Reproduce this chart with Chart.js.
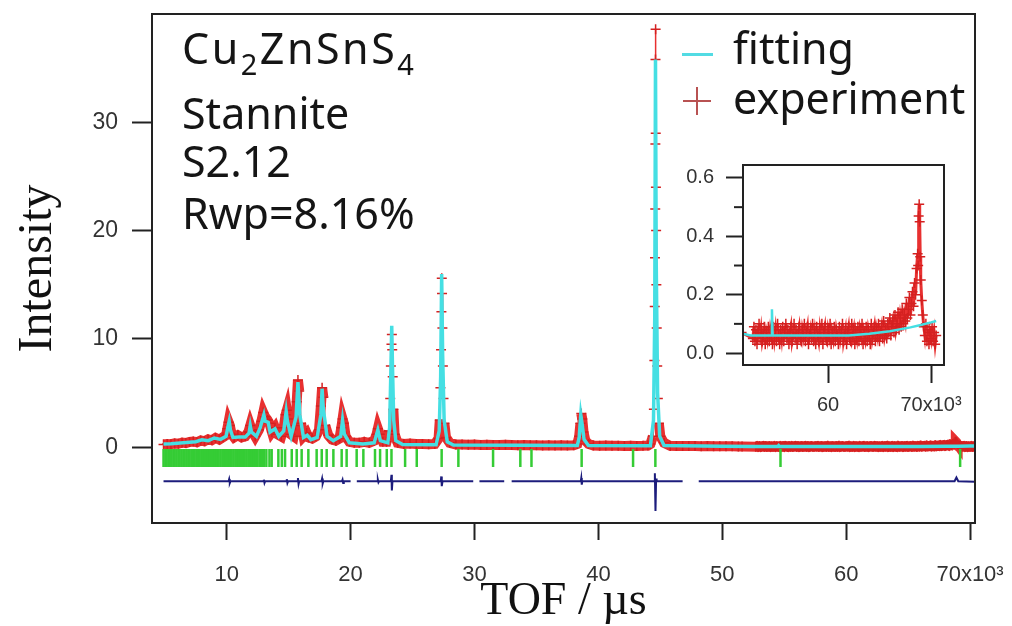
<!DOCTYPE html>
<html lang="en">

<head>
    <meta charset="UTF-8" />
    <title>Cu2ZnSnS4 Stannite S2.12 - TOF fit</title>
    <script src="https://cdn.jsdelivr.net/npm/chart.js"></script>
    <style>
        body { margin: 0; background: #fff; }
        .stage { position: relative; width: 1012px; height: 626px; overflow: hidden; }
        .stage canvas { position: absolute; }
        #mainChart { left: 0; top: 0; }
        #insetChart { left: 680px; top: 150px; }
        .label { position: absolute; font-family: "Noto Sans", sans-serif; font-size: 43px; line-height: 50px; color: #151515; white-space: nowrap; }
        .label sub { font-size: 29px; line-height: 0; vertical-align: -11px; }
        .key-line { position: absolute; left: 682px; top: 53px; width: 31px; height: 3px; background: #52dbe3; }
        .key-plus-h { position: absolute; left: 683px; top: 100px; width: 28px; height: 2px; background: #b85252; }
        .key-plus-v { position: absolute; left: 696px; top: 87px; width: 2px; height: 28px; background: #b85252; }
    </style>
</head>

<body>
    <div class="stage">
        <canvas id="mainChart" width="1012" height="626"></canvas>
        <canvas id="insetChart" width="310" height="270"></canvas>

        <!-- sample notes -->
        <div class="label" style="left:182px; top:23px; letter-spacing:2.5px">Cu<sub>2</sub>ZnSnS<sub>4</sub></div>
        <div class="label" style="left:182px; top:88px">Stannite</div>
        <div class="label" style="left:182px; top:136px">S2.12</div>
        <div class="label" style="left:182px; top:188px">Rwp=8.16%</div>

        <!-- legend -->
        <div class="key-line"></div>
        <div class="label" style="left:733px; top:23px">fitting</div>
        <div class="key-plus-h"></div>
        <div class="key-plus-v"></div>
        <div class="label" style="left:733px; top:73px">experiment</div>
    </div>

    <script>
        // TOF in units of 10^3 µs
        const tofTicks = [10, 20, 30, 40, 50, 60, 70];
        const intensityTicks = [0, 10, 20, 30];
        const insetTofTicks = [60, 70];
        const insetIntensityTicks = [0, 0.2, 0.4, 0.6];
        const insetMinorTicks = [0.1, 0.3, 0.5];

        // observed profile [tof, intensity]
        const obsLow = [
            [4.9, 0.25], [5.2, 0.3], [5.5, 0.28], [5.8, 0.35], [6.1, 0.32], [6.4, 0.42], [6.7, 0.38], [7.0, 0.48],
            [7.3, 0.52], [7.6, 0.46], [7.9, 0.62], [8.2, 0.55], [8.5, 0.72], [8.8, 0.64], [9.1, 0.85], [9.4, 0.7],
            [9.7, 0.92], [9.95, 1.1], [10.05, 1.7], [10.15, 2.3], [10.25, 2.0], [10.4, 1.2], [10.6, 0.9], [10.9, 1.1],
            [11.2, 0.9], [11.5, 1.0], [11.75, 1.4], [11.9, 2.0], [12.05, 1.5], [12.3, 1.0], [12.6, 1.6], [12.8, 2.4],
            [12.95, 3.2], [13.1, 2.8], [13.3, 2.5], [13.45, 2.2], [13.65, 1.4], [13.9, 1.8], [14.1, 1.2], [14.4, 1.0],
            [14.6, 1.8], [14.75, 3.0], [14.85, 3.4], [14.95, 2.6], [15.15, 1.2], [15.4, 1.0], [15.55, 2.0], [15.65, 4.2],
            [15.75, 6.2], [15.85, 5.2], [16.0, 2.2], [16.2, 1.0], [16.45, 1.3], [16.6, 0.9], [16.9, 0.8], [17.2, 1.0],
            [17.45, 1.6], [17.6, 3.8], [17.7, 5.5], [17.8, 4.6], [17.95, 2.0], [18.2, 1.1], [18.5, 0.7], [18.8, 0.6],
            [19.1, 0.8], [19.25, 1.8], [19.35, 2.6], [19.45, 2.2], [19.6, 1.0], [19.9, 0.5], [20.3, 0.4], [20.7, 0.4],
            [21.1, 0.5], [21.5, 0.4], [21.9, 0.6], [22.1, 1.2], [22.2, 1.7], [22.35, 1.2], [22.6, 0.5], [22.9, 0.5]
        ];
        const obsMid = [
            [23.1, 1.5], [23.2, 4.5], [23.25, 7.5], [23.3, 9.5], [23.33, 10.4], [23.36, 9.0], [23.4, 6.5], [23.45, 3.5],
            [23.55, 1.2], [23.8, 0.4], [24.3, 0.3], [24.8, 0.35], [25.3, 0.3], [25.8, 0.3], [26.3, 0.28], [26.8, 0.3],
            [27.1, 0.8], [27.2, 2.5], [27.25, 5.5], [27.3, 9.0], [27.33, 12.5], [27.36, 15.6], [27.38, 14.2], [27.41, 11.0],
            [27.45, 7.5], [27.5, 4.5], [27.57, 2.2], [27.7, 0.9], [28.0, 0.4], [28.5, 0.25], [29.0, 0.25], [29.5, 0.22],
            [30.0, 0.25], [30.5, 0.2], [31.0, 0.22], [31.5, 0.2], [32.0, 0.2], [32.5, 0.22], [33.0, 0.2], [33.5, 0.18],
            [34.0, 0.2], [34.5, 0.18], [35.0, 0.18], [35.5, 0.16], [36.0, 0.18], [36.5, 0.16], [37.0, 0.17], [37.5, 0.15],
            [38.0, 0.17], [38.3, 0.3], [38.45, 1.0], [38.55, 2.2], [38.62, 3.1], [38.7, 2.6], [38.8, 1.4], [38.95, 0.6],
            [39.2, 0.3], [39.6, 0.15], [40.1, 0.14], [40.6, 0.15], [41.1, 0.13], [41.6, 0.14], [42.1, 0.12], [42.6, 0.14],
            [43.1, 0.12], [43.6, 0.13], [44.0, 0.15], [44.2, 0.3], [44.4, 1.0], [44.48, 3.5], [44.52, 8.0], [44.55, 13],
            [44.57, 17.5], [44.59, 22], [44.6, 28], [44.61, 35.8], [44.62, 38.6], [44.63, 29], [44.645, 24], [44.66, 20],
            [44.68, 15], [44.71, 11], [44.75, 7.5], [44.8, 4.5], [44.88, 2.2], [45.0, 1.0], [45.3, 0.4]
        ];
        const obsHigh = [
            [45.8, 0.12], [46.3, 0.1], [46.8, 0.11], [47.3, 0.1], [47.8, 0.1], [48.3, 0.09], [48.8, 0.1], [49.3, 0.08],
            [49.8, 0.09], [50.3, 0.08], [50.8, 0.08], [51.3, 0.07], [51.6, 0.07]
        ];
        const obsTail = [
            [52.7, 0.05], [52.8, 0.09], [52.9, 0.04], [53.0, 0.08], [53.1, 0.03], [53.2, 0.07], [53.3, 0.10], [53.4, 0.05], [53.5, 0.08], [53.6, 0.04],
            [53.7, 0.06], [53.8, 0.09], [53.9, 0.03], [54.0, 0.07], [54.1, 0.05], [54.2, 0.09], [54.3, 0.04], [54.4, 0.08], [54.5, 0.06], [54.6, 0.03],
            [54.7, 0.09], [54.8, 0.05], [54.9, 0.08], [55.0, 0.04], [55.1, 0.10], [55.2, 0.06], [55.3, 0.03], [55.4, 0.08], [55.5, 0.05], [55.6, 0.09],
            [55.7, 0.04], [55.8, 0.07], [55.9, 0.10], [56.0, 0.05], [56.1, 0.08], [56.2, 0.03], [56.3, 0.07], [56.4, 0.09], [56.5, 0.04], [56.6, 0.06],
            [56.7, 0.10], [56.8, 0.05], [56.9, 0.08], [57.0, 0.03], [57.1, 0.07], [57.2, 0.09], [57.3, 0.05], [57.4, 0.04], [57.5, 0.08], [57.6, 0.06],
            [57.7, 0.10], [57.8, 0.04], [57.9, 0.07], [58.0, 0.09], [58.1, 0.03], [58.2, 0.06], [58.3, 0.08], [58.4, 0.05], [58.5, 0.10], [58.6, 0.04],
            [58.7, 0.07], [58.8, 0.03], [58.9, 0.09], [59.0, 0.06], [59.1, 0.04], [59.2, 0.08], [59.3, 0.05], [59.4, 0.10], [59.5, 0.03], [59.6, 0.07],
            [59.7, 0.09], [59.8, 0.05], [59.9, 0.04], [60.0, 0.08], [60.1, 0.06], [60.2, 0.10], [60.3, 0.03], [60.4, 0.07], [60.5, 0.05], [60.6, 0.09],
            [60.7, 0.04], [60.8, 0.08], [60.9, 0.06], [61.0, 0.03], [61.1, 0.09], [61.2, 0.05], [61.3, 0.07], [61.4, 0.10], [61.5, 0.04], [61.6, 0.06],
            [61.7, 0.08], [61.8, 0.03], [61.9, 0.07], [62.0, 0.09], [62.1, 0.05], [62.2, 0.04], [62.3, 0.10], [62.4, 0.06], [62.5, 0.08], [62.6, 0.03],
            [62.7, 0.07], [62.8, 0.05], [62.9, 0.09], [63.0, 0.04], [63.1, 0.08], [63.2, 0.06], [63.3, 0.10], [63.4, 0.03], [63.5, 0.07], [63.6, 0.05],
            [63.7, 0.09], [63.8, 0.04], [63.9, 0.08], [64.0, 0.06], [64.1, 0.03], [64.2, 0.10], [64.3, 0.05], [64.4, 0.07], [64.5, 0.09], [64.6, 0.04],
            [64.7, 0.08], [64.8, 0.06], [64.9, 0.10], [65.0, 0.04], [65.1, 0.07], [65.2, 0.09], [65.3, 0.05], [65.4, 0.11], [65.5, 0.06], [65.6, 0.08],
            [65.7, 0.05], [65.8, 0.10], [65.9, 0.07], [66.0, 0.12], [66.1, 0.06], [66.2, 0.09], [66.3, 0.11], [66.4, 0.07], [66.5, 0.13], [66.6, 0.08],
            [66.7, 0.10], [66.8, 0.14], [66.9, 0.08], [67.0, 0.12], [67.1, 0.09], [67.2, 0.15], [67.3, 0.10], [67.4, 0.13], [67.5, 0.11], [67.6, 0.17],
            [67.7, 0.12], [67.8, 0.15], [67.9, 0.19], [68.0, 0.13], [68.1, 0.17], [68.2, 0.21], [68.3, 0.16], [68.4, 0.24], [68.5, 0.20], [68.6, 0.29],
            [68.7, 0.34], [68.75, 0.30], [68.8, 0.47], [68.85, 0.51], [68.9, 0.45], [68.95, 0.33], [69.0, 0.25], [69.1, 0.18], [69.2, 0.13], [69.3, 0.09],
            [69.4, 0.06], [69.5, 0.10], [69.6, 0.04], [69.7, 0.08], [69.8, 0.03], [69.9, 0.07], [70.0, 0.05], [70.1, 0.09], [70.2, 0.04], [70.3, 0.07],
            [70.4, 0.03], [70.5, 0.06]
        ];

        // calculated (fitting) profile
        const calcProfile = [
            [4.9, 0.3], [5.5, 0.32], [6.5, 0.4], [7.5, 0.5], [8.0, 0.68], [8.5, 0.6], [9.0, 0.85], [9.5, 0.72],
            [9.95, 1.0], [10.1, 1.9], [10.2, 2.4], [10.3, 1.6], [10.5, 0.9], [11.0, 0.95], [11.5, 0.95], [11.8, 1.3],
            [11.9, 2.0], [12.0, 1.4], [12.4, 1.0], [12.7, 1.8], [12.9, 2.6], [13.0, 3.0], [13.1, 2.4], [13.35, 2.3],
            [13.5, 1.4], [13.9, 1.7], [14.2, 1.0], [14.6, 1.5], [14.8, 3.3], [14.9, 2.4], [15.2, 1.0], [15.6, 2.8],
            [15.75, 6.0], [15.9, 3.0], [16.2, 0.9], [16.5, 1.1], [16.8, 0.7], [17.3, 0.9], [17.6, 3.0], [17.7, 5.4],
            [17.8, 3.5], [18.1, 1.0], [18.6, 0.6], [19.2, 1.0], [19.35, 2.5], [19.5, 1.2], [19.9, 0.4], [21.0, 0.3],
            [21.9, 0.4], [22.2, 1.6], [22.4, 0.6], [23.0, 0.4], [23.15, 1.8], [23.25, 7.0], [23.32, 11.2], [23.38, 7.5],
            [23.48, 2.5], [23.65, 0.6], [24.2, 0.25], [26.9, 0.22], [27.15, 1.5], [27.27, 6.5], [27.35, 16.0], [27.43, 8.5],
            [27.55, 2.5], [27.8, 0.5], [28.3, 0.2], [38.3, 0.15], [38.45, 0.9], [38.58, 3.0], [38.68, 2.2], [38.85, 0.7],
            [39.2, 0.15], [44.2, 0.13], [44.45, 2.5], [44.55, 12], [44.61, 35.8], [44.67, 17], [44.78, 5], [44.95, 1.0],
            [45.3, 0.15], [50.0, 0.08], [52.5, 0.06], [54.48, 0.06], [54.55, 0.15], [54.62, 0.06], [62.0, 0.06],
            [64.0, 0.066], [66.0, 0.075], [68.0, 0.088], [69.0, 0.096], [70.0, 0.105], [70.5, 0.11]
        ];

        // reflection positions
        const reflectionTof = [
            4.9, 5.05, 5.15, 5.3, 5.4, 5.55, 5.7, 5.8, 5.95, 6.1, 6.2, 6.35, 6.5, 6.6, 6.75, 6.9, 7.0, 7.15, 7.3, 7.4,
            7.55, 7.7, 7.8, 7.95, 8.1, 8.2, 8.35, 8.5, 8.6, 8.75, 8.9, 9.05, 9.2, 9.35, 9.5, 9.65, 9.8, 9.95, 10.1, 10.25,
            10.4, 10.55, 10.7, 10.85, 11.0, 11.15, 11.3, 11.45, 11.6, 11.75, 11.9, 12.05, 12.2, 12.35, 12.5, 12.7, 12.85,
            13.0, 13.2, 13.45, 13.63, 14.17, 14.45, 14.71, 15.25, 15.65, 16.05, 16.59, 17.26, 17.67, 18.07, 18.61, 19.28,
            19.68, 20.49, 21.03, 21.97, 22.38, 22.92, 23.3, 24.4, 25.34, 27.35, 28.7, 31.5, 33.7, 34.6, 38.65, 42.8,
            44.6, 54.7, 69.2
        ];

        // difference (obs - calc, offset); null = excluded region
        const diffCurve = [
            [4.9, -3.15], [10.15, -3.15], [10.2, -2.95], [10.25, -3.3], [10.3, -3.15],
            [12.95, -3.15], [13.0, -3.0], [13.05, -3.3], [13.1, -3.15],
            [14.8, -3.15], [14.85, -2.95], [14.9, -3.3], [14.95, -3.15],
            [15.7, -3.15], [15.75, -2.85], [15.8, -3.4], [15.85, -3.15],
            [17.65, -3.15], [17.7, -2.9], [17.75, -3.35], [17.8, -3.15],
            [19.3, -3.15], [19.35, -3.0], [19.4, -3.3], [19.45, -3.15],
            [20.0, -3.15], [20.2, null], [20.5, -3.15],
            [22.15, -3.15], [22.2, -3.0], [22.25, -3.25], [22.3, -3.15],
            [23.25, -3.15], [23.3, -2.55], [23.33, -4.0], [23.38, -3.15],
            [27.28, -3.15], [27.32, -2.7], [27.36, -3.6], [27.42, -3.15],
            [29.9, -3.15], [30.1, null], [30.4, -3.15],
            [32.4, -3.15], [32.7, null], [33.0, -3.15],
            [38.58, -3.15], [38.62, -2.85], [38.66, -3.45], [38.7, -3.15],
            [44.5, -3.15], [44.56, -2.4], [44.61, -5.9], [44.66, -2.9], [44.7, -3.15],
            [46.8, -3.15], [47.4, null], [48.1, -3.15],
            [68.75, -3.15], [68.9, -2.8], [69.05, -3.15], [70.5, -3.2]
        ];

        const observed = [...obsLow, ...obsMid, ...obsHigh, ...obsTail];
        const toPoints = rows => rows.map(([x, y]) => ({ x, y }));

        const CYAN = '#45dfe3';
        const RED = '#d42020';
        const RED_BAND = '#e83030';
        const GREEN = '#35cc35';
        const NAVY = '#1c1c7c';
        const AXIS = '#222';
        const tofLabel = v => (v === 70 ? '70x10³' : String(v));
        const noEdgePadding = s => { s.paddingLeft = s.paddingRight = s.paddingTop = s.paddingBottom = 0; };

        // the thick red band thins out on the near-vertical flanks of sharp peaks
        const bandWidth = c => {
            const dx = Math.abs(c.p1.x - c.p0.x);
            const dy = Math.abs(c.p1.y - c.p0.y);
            return dy > 26 || (dx < 1 && dy > 6) ? 1.5 : 10;
        };

        // frame round the plot area
        const framePlugin = {
            id: 'frame',
            beforeDatasetsDraw(chart) {
                const { ctx, chartArea: a } = chart;
                ctx.save();
                ctx.fillStyle = '#fff';
                ctx.fillRect(a.left, a.top, a.right - a.left, a.bottom - a.top);
                ctx.restore();
            },
            afterDraw(chart, args, opts) {
                const { ctx, chartArea: a } = chart;
                ctx.save();
                ctx.strokeStyle = AXIS;
                ctx.lineWidth = 2;
                ctx.strokeRect(a.left, a.top, a.right - a.left, a.bottom - a.top);
                // minor y ticks (inset only)
                (opts.minor || []).forEach(v => {
                    const y = chart.scales.y.getPixelForValue(v);
                    ctx.beginPath();
                    ctx.moveTo(a.left - 9, y);
                    ctx.lineTo(a.left, y);
                    ctx.stroke();
                });
                ctx.restore();
            }
        };

        Chart.defaults.font.family = '"Liberation Sans", Arial, sans-serif';

        new Chart(document.getElementById('mainChart'), {
            type: 'scatter',
            data: {
                datasets: [{
                    label: 'fitting',
                    data: toPoints(calcProfile),
                    showLine: true,
                    borderColor: CYAN,
                    borderWidth: 3.5,
                    pointRadius: 0,
                    order: 0
                }, {
                    label: 'experiment',
                    data: toPoints(observed),
                    showLine: true,
                    borderColor: RED_BAND,
                    borderWidth: 10,
                    segment: { borderWidth: bandWidth },
                    pointStyle: 'cross',
                    pointRadius: 5,
                    pointBorderColor: RED,
                    pointBorderWidth: 1.5,
                    order: 2
                }, {
                    label: 'reflections',
                    data: reflectionTof.map(x => ({ x, y: -1.0 })),
                    pointStyle: 'line',
                    pointRotation: 90,
                    pointRadius: 9,
                    pointBorderColor: GREEN,
                    pointBorderWidth: 2.5,
                    order: 1
                }, {
                    label: 'difference',
                    data: toPoints(diffCurve),
                    showLine: true,
                    spanGaps: false,
                    borderColor: NAVY,
                    borderWidth: 2,
                    pointRadius: 0,
                    order: 1
                }]
            },
            options: {
                responsive: false,
                animation: false,
                devicePixelRatio: 1,
                layout: { padding: { left: 0, top: 14, right: 37, bottom: 0 } },
                plugins: { legend: { display: false }, tooltip: { enabled: false } },
                scales: {
                    x: {
                        type: 'linear',
                        min: 3.97,
                        max: 70.4,
                        afterBuildTicks: s => { s.ticks = tofTicks.map(value => ({ value })); },
                        afterFit: s => { s.height = 103; noEdgePadding(s); },
                        border: { display: false },
                        grid: { drawOnChartArea: false, tickLength: 17, tickColor: AXIS, tickWidth: 2 },
                        ticks: { callback: tofLabel, color: '#333', font: { size: 22 }, padding: 22, maxRotation: 0, autoSkip: false },
                        title: {
                            display: true, text: 'TOF / µs', color: '#111',
                            font: { family: '"Liberation Serif", "Times New Roman", serif', size: 46, lineHeight: 1 },
                            padding: { top: 0, bottom: 1 }
                        }
                    },
                    y: {
                        min: -7.0,
                        max: 40,
                        afterBuildTicks: s => { s.ticks = intensityTicks.map(value => ({ value })); },
                        afterFit: s => { s.width = 152; noEdgePadding(s); },
                        border: { display: false },
                        grid: { drawOnChartArea: false, tickLength: 20, tickColor: AXIS, tickWidth: 2 },
                        ticks: { color: '#333', font: { size: 23 }, padding: 14 },
                        title: {
                            display: true, text: 'Intensity', color: '#111',
                            font: { family: '"Liberation Serif", "Times New Roman", serif', size: 48, lineHeight: 1 },
                            padding: { top: 14, bottom: 0 }
                        }
                    }
                }
            },
            plugins: [framePlugin]
        });

        // inset: zoom on the long-TOF tail
        new Chart(document.getElementById('insetChart'), {
            type: 'scatter',
            data: {
                datasets: [{
                    label: 'fitting',
                    data: toPoints(calcProfile),
                    showLine: true,
                    borderColor: CYAN,
                    borderWidth: 2.5,
                    pointRadius: 0,
                    order: 0
                }, {
                    label: 'experiment',
                    data: toPoints(observed),
                    showLine: true,
                    borderColor: RED_BAND,
                    borderWidth: 3,
                    pointStyle: 'cross',
                    pointRadius: 5,
                    pointBorderColor: RED,
                    pointBorderWidth: 1.5,
                    order: 1
                }]
            },
            options: {
                responsive: false,
                animation: false,
                devicePixelRatio: 1,
                layout: { padding: { left: 0, top: 15, right: 46, bottom: 0 } },
                plugins: { legend: { display: false }, tooltip: { enabled: false }, frame: { minor: insetMinorTicks } },
                scales: {
                    x: {
                        type: 'linear',
                        min: 51.74,
                        max: 71.26,
                        afterBuildTicks: s => { s.ticks = insetTofTicks.map(value => ({ value })); },
                        afterFit: s => { s.height = 55; noEdgePadding(s); },
                        border: { display: false },
                        grid: { drawOnChartArea: false, tickLength: 18, tickColor: AXIS, tickWidth: 2 },
                        ticks: { callback: tofLabel, color: '#333', font: { size: 20 }, padding: 10, maxRotation: 0, autoSkip: false }
                    },
                    y: {
                        min: -0.041,
                        max: 0.6445,
                        afterBuildTicks: s => { s.ticks = insetIntensityTicks.map(value => ({ value })); },
                        afterFit: s => { s.width = 63; noEdgePadding(s); },
                        border: { display: false },
                        grid: { drawOnChartArea: false, tickLength: 17, tickColor: AXIS, tickWidth: 2 },
                        ticks: { callback: v => v.toFixed(1), color: '#333', font: { size: 20 }, padding: 12 }
                    }
                }
            },
            plugins: [framePlugin]
        });
    </script>
</body>

</html>
